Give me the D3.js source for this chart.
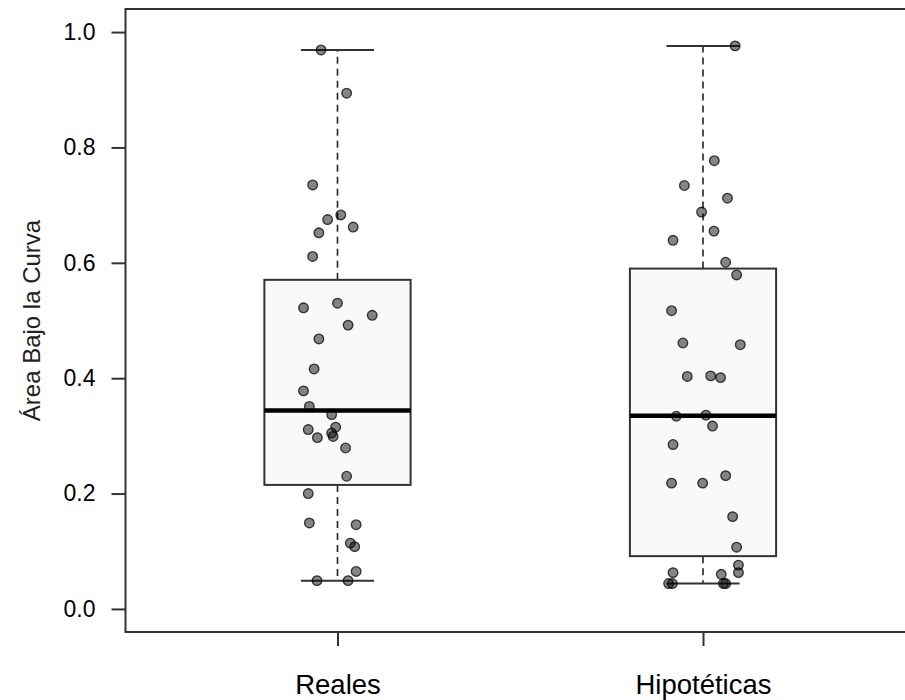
<!DOCTYPE html>
<html>
<head>
<meta charset="utf-8">
<script src="https://cdn.jsdelivr.net/npm/d3@7"></script>
<style>
  body { margin: 0; background: #fff; }
  svg { display: block; font-family: "Liberation Sans", Arial, sans-serif; }
</style>
</head>
<body>
<div class="viz"></div>
<script>
const width = 905;
const height = 700;

// groups, in plotting order
const categories = ["Reales", "Hipotéticas"];

// AUC values
const reales = [
  0.969, 0.894, 0.735, 0.675, 0.683, 0.662, 0.652, 0.611,
  0.522, 0.530, 0.509, 0.492, 0.468, 0.416, 0.378, 0.351,
  0.337, 0.311, 0.297, 0.315, 0.305, 0.299, 0.279, 0.230,
  0.200, 0.149, 0.146, 0.114, 0.108, 0.065, 0.049, 0.049
];
const hipoteticas = [
  0.976, 0.777, 0.734, 0.712, 0.688, 0.655, 0.639, 0.601,
  0.579, 0.517, 0.461, 0.458, 0.403, 0.404, 0.401, 0.334,
  0.336, 0.317, 0.285, 0.231, 0.218, 0.218, 0.160, 0.107,
  0.076, 0.063, 0.060, 0.063, 0.044, 0.044, 0.044, 0.044
];

// horizontal jitter of each point, in x-axis units
const realesJitter = [
  -0.045, 0.025, -0.068, -0.027, 0.009, 0.043, -0.051, -0.068,
  -0.093, 0.000, 0.095, 0.029, -0.051, -0.064, -0.093, -0.077,
  -0.016, -0.080, -0.055, -0.005, -0.016, -0.012, 0.022, 0.025,
  -0.080, -0.077, 0.051, 0.035, 0.047, 0.051, -0.056, 0.029
];
const hipJitter = [
  0.088, 0.031, -0.051, 0.067, -0.004, 0.030, -0.082, 0.062,
  0.092, -0.086, -0.055, 0.102, -0.043, 0.021, 0.048, -0.073,
  0.008, 0.026, -0.082, 0.062, -0.086, -0.001, 0.081, 0.092,
  0.097, -0.082, 0.050, 0.097, -0.094, -0.084, 0.056, 0.062
];

const yTicks = [0, 0.2, 0.4, 0.6, 0.8, 1.0];
const yLabel = "Área Bajo la Curva";

const groups = [
  { name: categories[0], pos: 1, values: reales, jitter: realesJitter },
  { name: categories[1], pos: 2, values: hipoteticas, jitter: hipJitter }
];

// same hinges as R's fivenum / boxplot.stats
function boxStats(values) {
  const x = values.slice().sort(d3.ascending);
  const n = x.length;
  const n4 = Math.floor((n + 3) / 2) / 2;
  const d = [1, n4, (n + 1) / 2, n + 1 - n4, n];
  const f = d.map((k) => 0.5 * (x[Math.floor(k) - 1] + x[Math.ceil(k) - 1]));
  const iqr = f[3] - f[1];
  const lo = d3.min(x.filter((v) => v >= f[1] - 1.5 * iqr));
  const hi = d3.max(x.filter((v) => v <= f[3] + 1.5 * iqr));
  return { q1: f[1], median: f[2], q3: f[3], lo, hi };
}

const svg = d3.select(".viz").append("svg")
  .attr("width", width)
  .attr("height", height);

const x = d3.scaleLinear().domain([0.42, 2.58]).range([125.5, 915]);
const y = d3.scaleLinear().domain([-0.04, 1.04]).range([632, 9]);

const boxHalf = 0.2;
const stapleHalf = 0.1;

const boxes = svg.append("g").attr("class", "boxes")
  .selectAll("g")
  .data(groups)
  .join("g");

boxes.each(function (g) {
  const s = boxStats(g.values);
  const sel = d3.select(this);
  const cx = x(g.pos);

  // whiskers
  sel.selectAll("line.whisker")
    .data([[s.q3, s.hi], [s.q1, s.lo]])
    .join("line")
    .attr("class", "whisker")
    .attr("x1", cx).attr("x2", cx)
    .attr("y1", (d) => y(d[0]))
    .attr("y2", (d) => y(d[1]))
    .attr("stroke", "#222")
    .attr("stroke-width", 1.6)
    .attr("stroke-dasharray", "7,5");

  sel.selectAll("line.staple")
    .data([s.hi, s.lo])
    .join("line")
    .attr("class", "staple")
    .attr("x1", x(g.pos - stapleHalf))
    .attr("x2", x(g.pos + stapleHalf))
    .attr("y1", (d) => y(d))
    .attr("y2", (d) => y(d))
    .attr("stroke", "#333")
    .attr("stroke-width", 2);

  sel.append("rect")
    .attr("x", x(g.pos - boxHalf))
    .attr("width", x(g.pos + boxHalf) - x(g.pos - boxHalf))
    .attr("y", y(s.q3))
    .attr("height", y(s.q1) - y(s.q3))
    .attr("fill", "#f9f9f9")
    .attr("stroke", "#333")
    .attr("stroke-width", 2);

  sel.append("line")
    .attr("x1", x(g.pos - boxHalf))
    .attr("x2", x(g.pos + boxHalf))
    .attr("y1", y(s.median))
    .attr("y2", y(s.median))
    .attr("stroke", "#000")
    .attr("stroke-width", 4.5);
});

// jittered points
const points = groups.flatMap((g) =>
  g.values.map((v, i) => ({ xv: g.pos + g.jitter[i], v }))
);

svg.append("g").attr("class", "points")
  .selectAll("circle")
  .data(points)
  .join("circle")
  .attr("cx", (d) => x(d.xv))
  .attr("cy", (d) => y(d.v))
  .attr("r", 4.8)
  .attr("fill", "#000")
  .attr("fill-opacity", 0.48)
  .attr("stroke", "#000")
  .attr("stroke-opacity", 0.75)
  .attr("stroke-width", 1.3);

// frame
svg.append("rect")
  .attr("x", x.range()[0])
  .attr("y", y.range()[1])
  .attr("width", x.range()[1] - x.range()[0])
  .attr("height", y.range()[0] - y.range()[1])
  .attr("fill", "none")
  .attr("stroke", "#333")
  .attr("stroke-width", 2);

// axes
const yAxis = svg.append("g")
  .attr("class", "y-axis")
  .attr("transform", `translate(${x.range()[0]},0)`)
  .call(d3.axisLeft(y).tickValues(yTicks).tickFormat(d3.format(".1f"))
    .tickSize(14).tickPadding(16));
yAxis.select(".domain").remove();
yAxis.selectAll("line").attr("stroke", "#333").attr("stroke-width", 2);
yAxis.selectAll("text").attr("font-size", 23).attr("fill", "#000")
  .attr("font-family", "Liberation Sans, Arial, sans-serif");

const xAxis = svg.append("g")
  .attr("class", "x-axis")
  .attr("transform", `translate(0,${y.range()[0]})`)
  .call(d3.axisBottom(x).tickValues(groups.map((g) => g.pos))
    .tickFormat((d, i) => categories[i])
    .tickSize(14).tickPadding(28));
xAxis.select(".domain").remove();
xAxis.selectAll("line").attr("stroke", "#333").attr("stroke-width", 2);
xAxis.selectAll("text").attr("font-size", 27.5).attr("fill", "#000")
  .attr("font-family", "Liberation Sans, Arial, sans-serif");

svg.append("text")
  .attr("transform", `translate(40,${(y.range()[0] + y.range()[1]) / 2}) rotate(-90)`)
  .attr("text-anchor", "middle")
  .attr("font-size", 24)
  .attr("fill", "#222")
  .text(yLabel);
</script>
</body>
</html>
